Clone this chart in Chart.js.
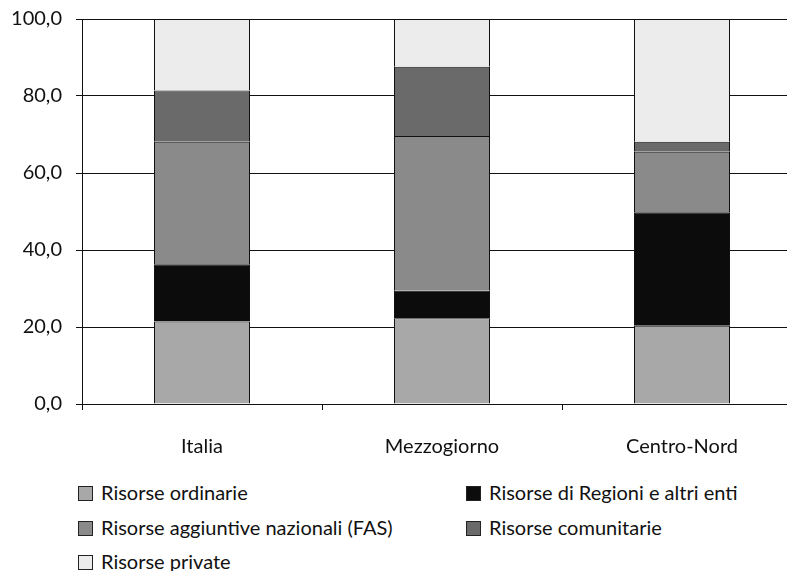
<!DOCTYPE html>
<html>
<head>
<meta charset="utf-8">
<script src="https://cdn.jsdelivr.net/npm/chart.js@4.4.0/dist/chart.umd.min.js"></script>
<style>
  body { margin: 0; background: #fff; overflow: hidden; width: 787px; height: 571px; position: relative; font-family: Lato, "DejaVu Sans", sans-serif; }
  #wrap { position: absolute; left: 0; top: 0; }
  #legend { position: absolute; left: 0; top: 0; width: 787px; }
  .item { position: absolute; font-size: 20px; line-height: 24px; color: #111; white-space: nowrap; }
  .box { display: inline-block; width: 13px; height: 13px; border: 1px solid #222; margin-right: 8px; vertical-align: -1px; }
</style>
</head>
<body>
<div id="wrap"><canvas id="kk" width="802" height="460"></canvas></div>
<div id="legend"></div>
<script>
const categorie = ['Italia', 'Mezzogiorno', 'Centro-Nord'];
const ordinarie = [21.4, 22.3, 20.3];
const regioni = [14.9, 7.1, 29.5];
const fas = [31.8, 40.2, 15.7];
const comunitarie = [13.3, 18.0, 2.6];
const private_ = [18.6, 12.4, 31.9];
const yTicks = [0, 20, 40, 60, 80, 100];

document.addEventListener('DOMContentLoaded', () => {
    const ctx = document.getElementById('kk').getContext('2d');
    const font = { family: 'Lato, "DejaVu Sans", sans-serif', size: 20 };

    const chart = new Chart(ctx, {
        type: 'bar',
        data: {
            labels: categorie,
            datasets: [
                { label: 'Risorse ordinarie', data: ordinarie, backgroundColor: '#a8a8a8' },
                { label: 'Risorse di Regioni e altri enti', data: regioni, backgroundColor: '#0c0c0c' },
                { label: 'Risorse aggiuntive nazionali (FAS)', data: fas, backgroundColor: '#8a8a8a' },
                { label: 'Risorse comunitarie', data: comunitarie, backgroundColor: '#6a6a6a' },
                { label: 'Risorse private', data: private_, backgroundColor: '#ececec' }
            ]
        },
        options: {
            responsive: false,
            animation: false,
            layout: { padding: 0 },
            datasets: {
                bar: {
                    borderColor: '#111',
                    borderWidth: 1,
                    categoryPercentage: 1,
                    barPercentage: 0.4
                }
            },
            plugins: {
                legend: { display: false },
                tooltip: { enabled: false }
            },
            scales: {
                x: {
                    stacked: true,
                    afterFit: (scale) => { scale.height = 56; scale.paddingLeft = 0; scale.paddingRight = 0; },
                    grid: { drawOnChartArea: false, color: '#111', tickLength: 6, offset: true },
                    border: { color: '#111' },
                    ticks: { color: '#111', font: font, padding: 25 }
                },
                y: {
                    stacked: true,
                    min: 0,
                    max: 100,
                    afterBuildTicks: (scale) => { scale.ticks = yTicks.map(v => ({ value: v })); },
                    afterFit: (scale) => { scale.width = 82; scale.paddingTop = 19; scale.paddingBottom = 0; },
                    grid: { color: '#111', tickLength: 6 },
                    border: { color: '#111' },
                    ticks: {
                        color: '#111',
                        font: font,
                        padding: 14,
                        callback: (v) => v.toFixed(1).replace('.', ',')
                    }
                }
            }
        }
    });

    // legend in two columns like the original
    const pos = [[78, 480], [466, 480], [78, 515], [466, 515], [78, 549]];
    const leg = document.getElementById('legend');
    chart.data.datasets.forEach((ds, i) => {
        const el = document.createElement('div');
        el.className = 'item';
        el.style.left = pos[i][0] + 'px';
        el.style.top = pos[i][1] + 'px';
        el.innerHTML = '<span class="box" style="background:' + ds.backgroundColor + '"></span>' + ds.label;
        leg.appendChild(el);
    });
});
</script>
</body>
</html>
